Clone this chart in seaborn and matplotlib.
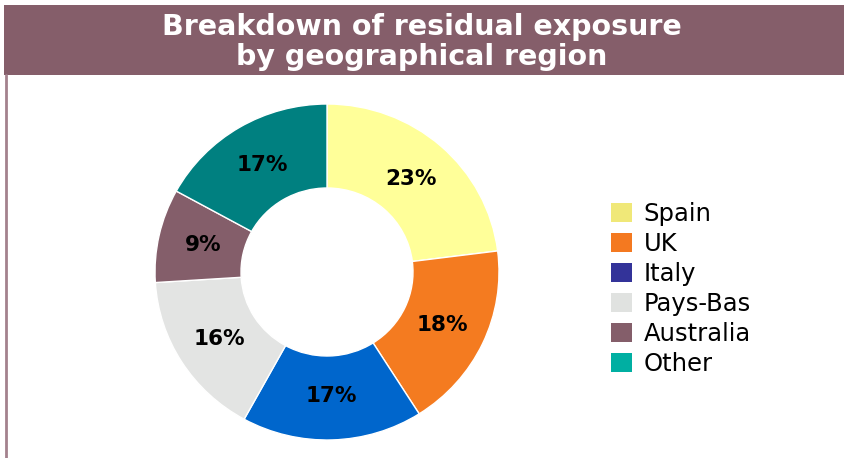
import matplotlib
matplotlib.use("Agg")
import matplotlib.pyplot as plt
from matplotlib.patches import Rectangle, Patch
from matplotlib.lines import Line2D
import seaborn as sns

# Data
regions = ["Spain", "UK", "Italy", "Pays-Bas", "Australia", "Other"]
shares = [23, 18, 17, 16, 9, 17]
slice_colors = ["#FFFF99", "#F47B20", "#0066CC", "#E3E4E3", "#845E6A", "#008080"]
legend_colors = ["#F0E878", "#F47920", "#333399", "#E0E2E0", "#845E6A", "#00AFA2"]
title_lines = ["Breakdown of residual exposure", "by geographical region"]

sns.set_theme(style="white")
plt.rcParams["font.family"] = ["DejaVu Sans"]

W, H = 845, 458
fig = plt.figure(figsize=(W / 100, H / 100), dpi=100)
fig.patch.set_facecolor("white")

# Title banner
banner = "#855E6A"
fig.patches.append(Rectangle((4 / W, 1 - 75 / H), 1 - 4 / W, 70 / H,
                             transform=fig.transFigure, facecolor=banner,
                             edgecolor="none", zorder=0))
fig.lines.append(Line2D([6.5 / W, 6.5 / W], [0, 1 - 75 / H],
                        transform=fig.transFigure, color="#A4828D", lw=2))
fig.text(422 / W, 1 - 27 / H, title_lines[0], ha="center", va="center",
         color="white", fontsize=20.5, fontweight="bold")
fig.text(422 / W, 1 - 57 / H, title_lines[1], ha="center", va="center",
         color="white", fontsize=20.5, fontweight="bold")

# Donut
ax = fig.add_axes([155 / W, 18 / H, 344 / W, 336 / H])
wedges, texts, autotexts = ax.pie(
    shares, colors=slice_colors, startangle=90, counterclock=False,
    radius=1, autopct=lambda p: f"{p:.0f}%", pctdistance=0.74,
    wedgeprops=dict(width=0.5, edgecolor="white", linewidth=1),
    textprops=dict(fontsize=15.5, fontweight="bold", color="black"))
ax.set_xlim(-1.0, 1.0)
ax.set_ylim(-1.0, 1.0)
ax.set_aspect("auto")
ax.axis("off")

# Legend
handles = [Patch(facecolor=c, edgecolor="none", label=r)
           for r, c in zip(regions, legend_colors)]
fig.legend(handles=handles, loc="center left",
           bbox_to_anchor=(611 / W, 1 - 289 / H), frameon=False,
           fontsize=17.5, handlelength=0.85, handleheight=0.85,
           handletextpad=0.5, labelspacing=0.25, borderaxespad=0,
           borderpad=0, labelcolor="black")

fig.savefig("out.png", dpi=100, facecolor="white")
